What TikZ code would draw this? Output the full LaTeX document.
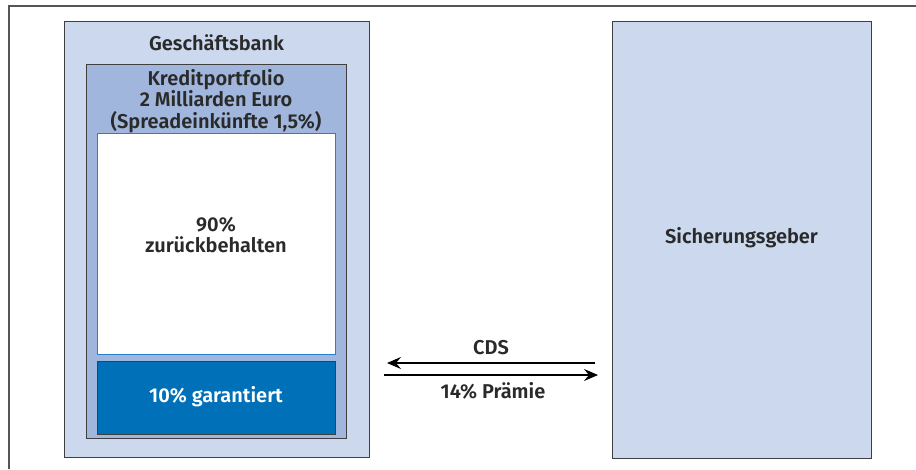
\documentclass[tikz,border=0pt]{standalone}
\usepackage{fontspec}
\setmainfont{Fira Sans}[BoldFont={Fira Sans SemiBold}]
\usetikzlibrary{arrows.meta}
\definecolor{lightblue}{HTML}{CBD8EE}
\definecolor{midblue}{HTML}{A0B6DC}
\definecolor{darkblue}{HTML}{0070B8}
\definecolor{edgeblue}{HTML}{2A80C8}
\definecolor{textdark}{HTML}{2A2A2A}
\definecolor{framegray}{HTML}{555555}
\begin{document}
\begin{tikzpicture}[x=1pt,y=-1pt,
  boxstyle/.style={draw=textdark!90, line width=1.1pt, inner sep=0pt, anchor=north west},
  lbl/.style={font=\fontsize{20}{21.5}\selectfont\bfseries, text=textdark, align=center, inner sep=0pt},
  arr/.style={-{Stealth[length=14pt,width=12pt,inset=5pt]}, line width=1.1pt, draw=black}]
\useasboundingbox (0,0) rectangle (916,469);
\draw[framegray, line width=1.2pt] (9,469) -- (9,6) -- (916,6);
% boxes
\node[boxstyle, fill=lightblue, minimum width=305pt, minimum height=436pt] (bank) at (64,21) {};
\node[boxstyle, fill=midblue, minimum width=260pt, minimum height=374pt] (portfolio) at (86,64) {};
\node[boxstyle, draw=edgeblue, fill=white, minimum width=238pt, minimum height=221pt] (retained) at (97,133) {};
\node[boxstyle, fill=darkblue, minimum width=238pt, minimum height=73pt] (guaranteed) at (97,361) {};
\node[boxstyle, fill=lightblue, minimum width=259pt, minimum height=437pt] (seller) at (612,21) {};
% labels
\node[lbl] (banklbl) at (216.5,43) {Geschäftsbank};
\node[lbl] (portlbl) at (216,101) {Kreditportfolio\\2 Milliarden Euro\\(Spreadeinkünfte 1,5\%)};
\node[lbl] (retlbl) at (216,235) {90\%\\zurückbehalten};
\node[lbl, text=white] (guarlbl) at (216,397) {10\% garantiert};
\node[lbl] (sellerlbl) at (741.5,238) {Sicherungsgeber};
% arrows
\coordinate (cdsR) at (595,363);
\coordinate (cdsL) at (387,363);
\coordinate (premL) at (384,375);
\coordinate (premR) at (598,375);
\draw[arr] (cdsR) -- (cdsL);
\draw[arr] (premL) -- (premR);
\node[lbl] (cdslbl) at (491,348) {CDS};
\node[lbl] (premlbl) at (493,391) {14\% Prämie};
\end{tikzpicture}
\end{document}
